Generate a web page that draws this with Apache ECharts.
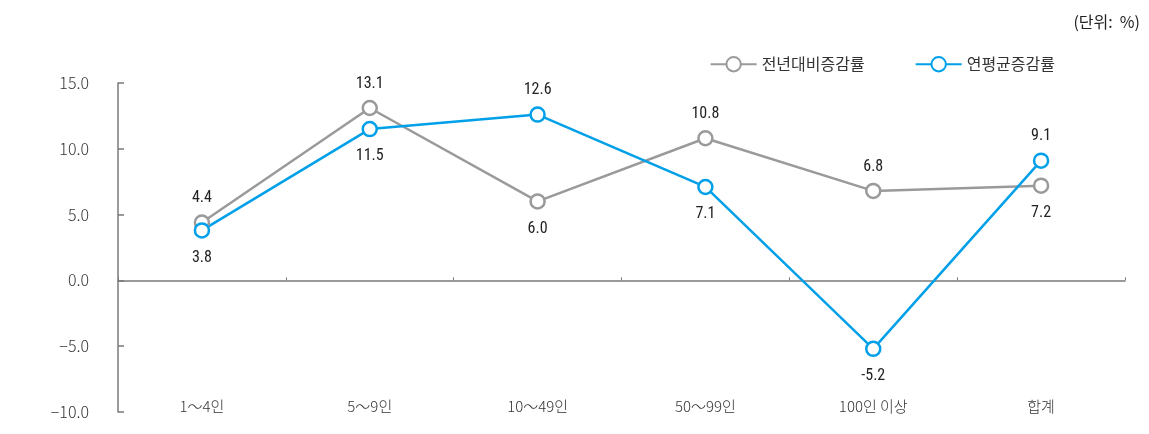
<!DOCTYPE html>
<html>
<head>
<meta charset="utf-8">
<script src="https://cdn.jsdelivr.net/npm/echarts@6/dist/echarts.min.js"></script>
<style>
  html, body { margin: 0; padding: 0; background: #fff; }
  #chart { width: 1149px; height: 434px; }
</style>
</head>
<body>
<div id="chart"></div>
<script>
// Size classes and growth rates (%)
const categories = ['1～4인', '5～9인', '10～49인', '50～99인', '100인 이상', '합계'];
const yoyRate = [4.4, 13.1, 6.0, 10.8, 6.8, 7.2];      // 전년대비증감률
const avgRate = [3.8, 11.5, 12.6, 7.1, -5.2, 9.1];     // 연평균증감률
const yoyLabelPos = ['top', 'top', 'bottom', 'top', 'top', 'bottom'];
const avgLabelPos = ['bottom', 'bottom', 'top', 'bottom', 'bottom', 'top'];
const yTicks = { min: -10, max: 15, step: 5 };

const KR = "'Noto Sans CJK KR', 'Noto Sans', sans-serif";
const NUM = "'Liberation Sans Narrow', 'Roboto Condensed', Roboto, sans-serif";

function pointData(values, positions) {
  return values.map((v, i) => ({
    value: v,
    label: { position: positions[i], distance: positions[i] === 'top' ? 8 : 11 }
  }));
}

function lineSeries(name, color, values, positions) {
  return {
    name: name,
    type: 'line',
    data: pointData(values, positions),
    symbol: 'circle',
    symbolSize: 14,
    lineStyle: { color: color, width: 2.5 },
    itemStyle: { color: '#fff', borderColor: color, borderWidth: 2.5 },
    label: {
      show: true,
      color: '#222',
      fontFamily: NUM,
      fontWeight: 'normal',
      fontSize: 16,
      formatter: p => p.value.toFixed(1)
    },
    emphasis: { disabled: true },
    z: 3
  };
}

const chart = echarts.init(document.getElementById('chart'));
chart.setOption({
  animation: false,
  grid: { left: 118, right: 24, top: 83, bottom: 22 },
  graphic: [{
    type: 'text',
    right: 9,
    top: 14,
    style: { text: '(단위:  %)', fontFamily: KR, fontSize: 16, fill: '#222' }
  }],
  legend: {
    right: 89,
    top: 51,
    itemWidth: 46,
    itemHeight: 18,
    itemGap: 50,
    textStyle: { fontFamily: KR, fontSize: 16, color: '#333' },
    data: ['전년대비증감률', '연평균증감률']
  },
  xAxis: [{
    type: 'category',
    data: categories,
    boundaryGap: true,
    axisLine: { onZero: true, lineStyle: { color: '#7a7a7a', width: 1.5 } },
    axisTick: { show: true, inside: true, length: 3, lineStyle: { color: '#7a7a7a' } },
    axisLabel: { show: false },
    splitLine: { show: false }
  }, {
    type: 'category',
    data: categories,
    position: 'bottom',
    boundaryGap: true,
    axisLine: { show: false, onZero: false },
    axisTick: { show: false },
    axisLabel: { show: true, margin: -13, fontFamily: KR, fontSize: 15, fontWeight: 300, color: '#333' },
    splitLine: { show: false }
  }],
  yAxis: {
    type: 'value',
    min: yTicks.min,
    max: yTicks.max,
    interval: yTicks.step,
    axisLine: { show: true, lineStyle: { color: '#7a7a7a', width: 1.5 } },
    axisTick: { show: true, inside: true, length: 6, lineStyle: { color: '#7a7a7a', width: 1.5 } },
    splitLine: { show: false },
    axisLabel: {
      margin: 29,
      fontFamily: KR,
      fontSize: 16,
      fontWeight: 300,
      color: '#333',
      formatter: v => (v < 0 ? '\u2212' + Math.abs(v).toFixed(1) : v.toFixed(1))
    }
  },
  series: [
    lineSeries('전년대비증감률', '#9a9a9a', yoyRate, yoyLabelPos),
    lineSeries('연평균증감률', '#00a0e9', avgRate, avgLabelPos)
  ]
});
</script>
</body>
</html>
